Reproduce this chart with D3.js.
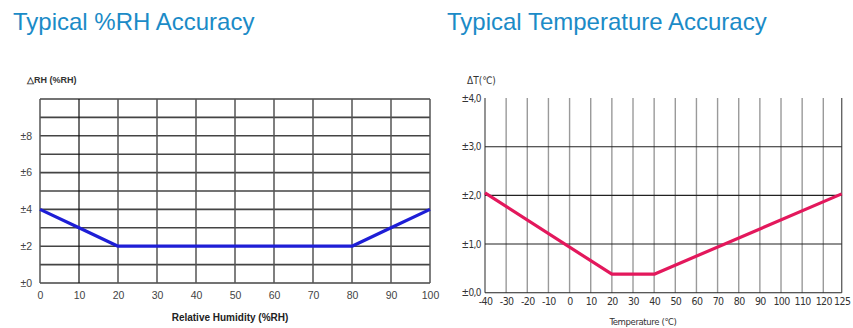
<!DOCTYPE html>
<html><head><meta charset="utf-8">
<script src="https://cdn.jsdelivr.net/npm/d3@7"></script>
<style>
html,body{margin:0;padding:0;background:#fff;}
svg{display:block;}
</style></head>
<body>
<svg id="c" width="853" height="328"></svg>
<script>
// ---- Data: Typical %RH Accuracy
const rhX = [0, 10, 20, 80, 90, 100];
const rhErr = [4, 3, 2, 2, 3, 4];
const rhXTicks = [0, 10, 20, 30, 40, 50, 60, 70, 80, 90, 100];
const rhYGrid = [0, 1, 2, 3, 4, 5, 6, 7, 8, 9, 10];
const rhYTicks = [0, 2, 4, 6, 8];
const rhYTickLabels = ["±0", "±2", "±4", "±6", "±8"];

// ---- Data: Typical Temperature Accuracy
const tX = [-40, 20, 40, 125];
const tErr = [2.05, 0.38, 0.38, 2.03];
const tXTicks = [-40, -30, -20, -10, 0, 10, 20, 30, 40, 50, 60, 70, 80, 90, 100, 110, 120, 125];
const tYTicks = [0, 1, 2, 3, 4];
const tYTickLabels = ["±0,0", "±1,0", "±2,0", "±3,0", "±4,0"];

const titles = ["Typical %RH Accuracy", "Typical Temperature Accuracy"];

const svg = d3.select("#c");
const narrow = "'Liberation Sans Narrow','Arial Narrow','Liberation Sans',Arial,sans-serif";
const cond = "'DejaVu Sans Condensed','Liberation Sans Narrow',sans-serif";
const titleColor = "#1b8bc7";

// Titles
svg.append("text").attr("x", 13).attr("y", 30).text(titles[0])
  .attr("font-family", "'Liberation Sans',Arial,Helvetica,sans-serif").attr("font-size", 24).attr("fill", titleColor);
svg.append("text").attr("x", 447).attr("y", 30).text(titles[1])
  .attr("font-family", "'Liberation Sans',Arial,Helvetica,sans-serif").attr("font-size", 24).attr("fill", titleColor);

// ===== Left chart =====
{
  const x = d3.scaleLinear().domain([0, 100]).range([40, 430]);
  const y = d3.scaleLinear().domain([0, 10]).range([283, 99]);
  const g = svg.append("g");
  g.selectAll("line.h").data(rhYGrid).join("line").attr("class", "h")
    .attr("x1", x(0)).attr("x2", x(100)).attr("y1", d => y(d)).attr("y2", d => y(d))
    .attr("stroke", "#444").attr("stroke-width", 1.6);
  g.selectAll("line.v").data(rhXTicks).join("line").attr("class", "v")
    .attr("x1", d => x(d)).attr("x2", d => x(d)).attr("y1", y(0)).attr("y2", y(10))
    .attr("stroke", d => d === 10 ? "#111" : "#555").attr("stroke-width", d => d === 10 ? 1.2 : 1.5);
  const xa = d3.axisBottom(x).tickValues(rhXTicks).tickFormat(d => String(d)).tickSize(0).tickPadding(9);
  const gx = g.append("g").attr("transform", `translate(0,${y(0)})`).call(xa);
  gx.select(".domain").remove();
  gx.selectAll("text").attr("font-family", narrow).attr("font-size", 10.5).attr("fill", "#444");
  const ya = d3.axisLeft(y).tickValues(rhYTicks).tickFormat((d, i) => rhYTickLabels[i]).tickSize(0).tickPadding(8);
  const gy = g.append("g").attr("transform", `translate(${x(0)},0)`).call(ya);
  gy.select(".domain").remove();
  gy.selectAll("text").attr("font-family", narrow).attr("font-size", 10.5).attr("fill", "#444");
  const line = d3.line().x((d, i) => x(rhX[i])).y(d => y(d));
  g.append("path").datum(rhErr).attr("d", line).attr("fill", "none")
    .attr("stroke", "#1e1ed6").attr("stroke-width", 3.2).attr("stroke-linejoin", "round");
  g.append("text").attr("x", 27).attr("y", 83).text("△RH (%RH)")
    .attr("font-family", narrow).attr("font-weight", "bold").attr("font-size", 9).attr("fill", "#333");
  g.append("text").attr("x", 230).attr("y", 321).attr("text-anchor", "middle").text("Relative Humidity (%RH)")
    .attr("font-family", narrow).attr("font-weight", "bold").attr("font-size", 10).attr("fill", "#222");
}

// ===== Right chart =====
{
  const x = d3.scaleLinear().domain([-40, 120, 125]).range([485, 823.3, 841.7]);
  const y = d3.scaleLinear().domain([0, 4]).range([292.7, 98]);
  const g = svg.append("g");
  g.selectAll("line.v").data(tXTicks).join("line").attr("class", "v")
    .attr("x1", d => x(d)).attr("x2", d => x(d)).attr("y1", y(0)).attr("y2", y(4))
    .attr("stroke", d => (d === -40 || d === 125) ? "#666" : "#9a9a9a").attr("stroke-width", 1.4);
  g.selectAll("line.h").data(tYTicks.filter(d => d < 4)).join("line").attr("class", "h")
    .attr("x1", x(-40)).attr("x2", x(125)).attr("y1", d => y(d)).attr("y2", d => y(d))
    .attr("stroke", "#222").attr("stroke-width", 1.1);
  const xa = d3.axisBottom(x).tickValues(tXTicks).tickFormat(d => String(d)).tickSize(0).tickPadding(5);
  const gx = g.append("g").attr("transform", `translate(0,${y(0)})`).call(xa);
  gx.select(".domain").remove();
  gx.selectAll("text").attr("font-family", cond).attr("font-size", 10.5).attr("letter-spacing", -0.6).attr("fill", "#333");
  const ya = d3.axisLeft(y).tickValues(tYTicks).tickFormat((d, i) => tYTickLabels[i]).tickSize(0).tickPadding(4);
  const gy = g.append("g").attr("transform", `translate(${x(-40)},0)`).call(ya);
  gy.select(".domain").remove();
  gy.selectAll("text").attr("font-family", cond).attr("font-size", 10).attr("letter-spacing", -0.6).attr("fill", "#333");
  const line = d3.line().x((d, i) => x(tX[i])).y(d => y(d));
  g.append("path").datum(tErr).attr("d", line).attr("fill", "none")
    .attr("stroke", "#e3185c").attr("stroke-width", 3.2).attr("stroke-linejoin", "round");
  g.append("text").attr("x", 467).attr("y", 84).text("ΔT(℃)")
    .attr("font-family", cond).attr("font-size", 10).attr("fill", "#333");
  g.append("text").attr("x", 643).attr("y", 325).attr("text-anchor", "middle").text("Temperature (℃)")
    .attr("font-family", cond).attr("font-size", 9.5).attr("letter-spacing", -0.4).attr("fill", "#333");
}
</script>
</body></html>
